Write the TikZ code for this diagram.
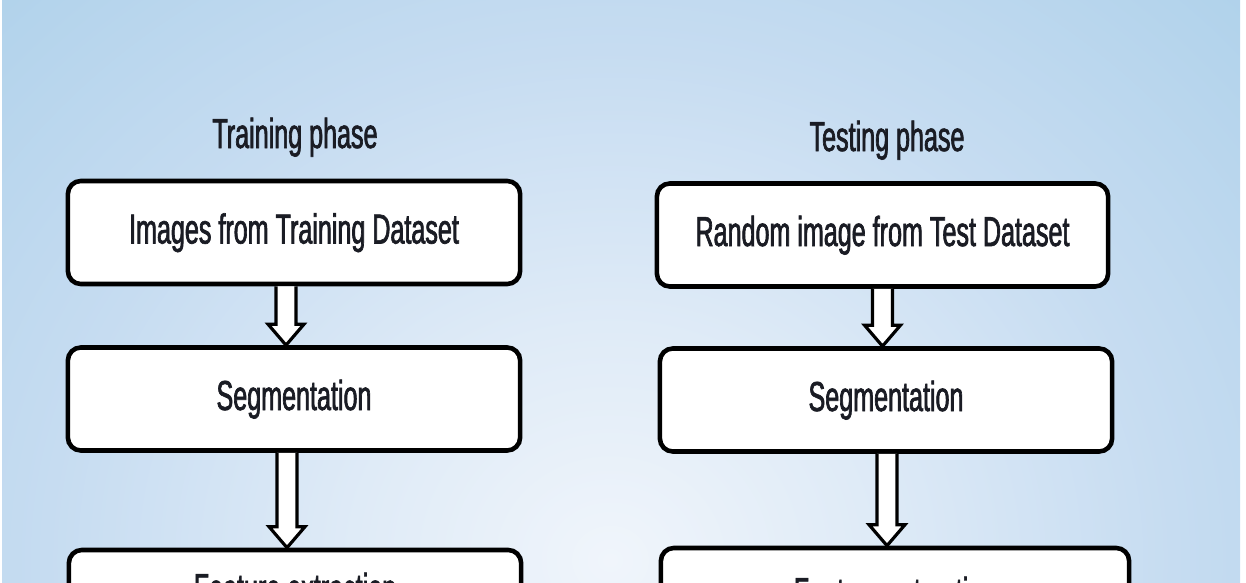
\documentclass[tikz,border=0pt]{standalone}
\usepackage{fontspec}
\setmainfont[FakeStretch=0.6, FakeBold=1.6]{Liberation Sans}
\usepackage{xcolor}
\usepackage{tikz}
\usetikzlibrary{calc}
\definecolor{bgout}{HTML}{AED1EA}
\definecolor{bgmid}{HTML}{C6DCF1}
\definecolor{bgin}{HTML}{F0F5FB}
\definecolor{inkdark}{HTML}{1A1C24}
\pgfdeclareradialshading{bgglow}{\pgfpoint{0bp}{0bp}}{color(0bp)=(bgin); color(10bp)=(bgin!60!bgmid); color(22bp)=(bgmid); color(36bp)=(bgout); color(50bp)=(bgout)}
\tikzset{
  stepbox/.style   ={rectangle, rounded corners=0.13cm, draw=black, line width=1.3pt, fill=white, align=center, minimum width=4.52cm, minimum height=1.03cm, inner sep=0pt, text height=0.30cm, text depth=0.08cm, font=\fontsize{11.9}{14}\selectfont, text=inkdark},
  phaselabel/.style={inner sep=0pt, text height=0.30cm, text depth=0.08cm, font=\fontsize{11.9}{14}\selectfont, text=inkdark},
  blockarrow/.style={draw=black, fill=white, line width=0.9pt, line join=miter},
}

\begin{document}
\begin{tikzpicture}[x=0.01cm, y=-0.01cm]
% --- frame and background ---
\useasboundingbox (0,0) rectangle (1246,582);
\clip (0,0) rectangle (1246,582);
\fill[white] (0,0) rectangle (1246,582);
\begin{scope}
  \clip (2,1) rectangle (1240,582);
  \fill[bgout] (2,1) rectangle (1240,582);
  \shade[shading=bgglow] (-30,-20) rectangle (1250,1140);
\end{scope}
% --- training column ---
\node[phaselabel] (trhead) at (295,137) {Training phase};
\node[stepbox] (tr1) at (294,232.5) {Images from Training Dataset};
\node[stepbox] (tr2) at (294,399) {Segmentation};
\node[stepbox, minimum height=0.84cm] (tr3) at (295,592) {Feature extraction};
% --- testing column ---
\node[phaselabel] (tshead) at (887,140) {Testing phase};
\node[stepbox, minimum width=4.51cm] (ts1) at (882.5,235) {Random image from Test Dataset};
\node[stepbox] (ts2) at (886,400) {Segmentation};
\node[stepbox, minimum width=4.68cm, minimum height=0.96cm] (ts3) at (895,596) {Feature extraction};
% --- block arrows ---
\foreach \a/\b/\dx in {tr1/tr2/-8, tr2/tr3/-7, ts1/ts2/0, ts2/ts3/1}{
  \coordinate (top) at ($(\a.south)+(\dx,0)$);
  \coordinate (tip) at (top |- \b.north);
  \draw[blockarrow] ($(top)+(-10,0)$) -- ($(tip)+(-10,-21)$) -- ($(tip)+(-18,-21)$) -- (tip)
    -- ($(tip)+(18,-21)$) -- ($(tip)+(10,-21)$) -- ($(top)+(10,0)$);
}
\end{tikzpicture}
\end{document}
